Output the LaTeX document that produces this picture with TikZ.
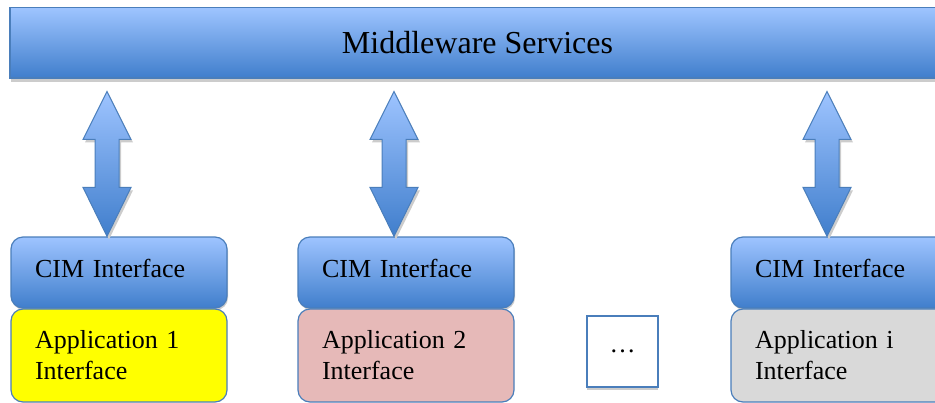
\documentclass[tikz,border=0pt]{standalone}
\usepackage{fontspec}
\setmainfont{Liberation Serif}
\usetikzlibrary{shadows,calc}
\definecolor{barTop}{RGB}{158,196,255}
\definecolor{barBot}{RGB}{64,126,204}
\definecolor{barLine}{RGB}{74,126,187}
\definecolor{appYellow}{RGB}{255,255,0}
\definecolor{appPink}{RGB}{230,185,184}
\definecolor{appGray}{RGB}{217,217,217}
\begin{document}
\begin{tikzpicture}[x=1pt,y=-1pt,
  blueshade/.style={top color=barTop, bottom color=barBot, draw=barLine, line width=1.2pt},
  bar/.style={blueshade, minimum width=935pt, minimum height=70.5pt, inner sep=0pt,
    font=\fontsize{32}{36}\selectfont,
    drop shadow={shadow xshift=1pt, shadow yshift=-4pt, fill=black!20, opacity=1}},
  cimbox/.style={blueshade, rounded corners=12pt, minimum width=216pt, minimum height=71pt,
    text width=168pt, align=left, inner xsep=0pt, text depth=8pt,
    font=\fontsize{26}{31}\selectfont,
    drop shadow={shadow xshift=1pt, shadow yshift=-2pt, fill=black!20, opacity=1}},
  appbox/.style={draw=barLine, line width=1.2pt, rounded corners=12pt, minimum width=216pt,
    minimum height=93pt, text width=168pt, align=left, inner xsep=0pt,
    font=\fontsize{26}{31}\selectfont},
  dotsbox/.style={draw=barLine, line width=2pt, fill=white, minimum size=71pt, inner sep=0pt,
    font=\fontsize{26}{31}\selectfont,
    drop shadow={shadow xshift=0pt, shadow yshift=-3pt, fill=black!20, opacity=1}},
  updown/.style={blueshade, line width=1pt,
    drop shadow={shadow xshift=2pt, shadow yshift=-3pt, fill=black!20, opacity=1}}]
\useasboundingbox (0,0) rectangle (935,402);
\clip (0,0) rectangle (935,402);
% top bar
\node[bar] (mw) at (477.5,42.75) {Middleware Services};
% interface stacks
\node[cimbox] (cim1) at (119,272.5) {CIM Interface};
\node[cimbox] (cim2) at (406,272.5) {CIM Interface};
\node[cimbox] (cim3) at (839,272.5) {CIM Interface};
\node[appbox, fill=appYellow] (app1) at (119,355.5) {Application 1\\Interface};
\node[appbox, fill=appPink] (app2) at (406,355.5) {Application 2\\Interface};
\node[appbox, fill=appGray] (app3) at (839,355.5) {Application i\\Interface};
\node[dotsbox] (more) at (622.5,351.5) {\dots};
% double arrows between bar and interfaces
\foreach \n in {cim1,cim2,cim3}
  \path[updown] ($(\n.north)+(-12,0)$) -- ++(-24,-49) -- ++(12,0) -- ++(0,-48)
    -- ++(-12,0) -- ++(24,-48) -- ++(24,48) -- ++(-12,0) -- ++(0,48) -- ++(12,0) -- cycle;
\end{tikzpicture}
\end{document}
